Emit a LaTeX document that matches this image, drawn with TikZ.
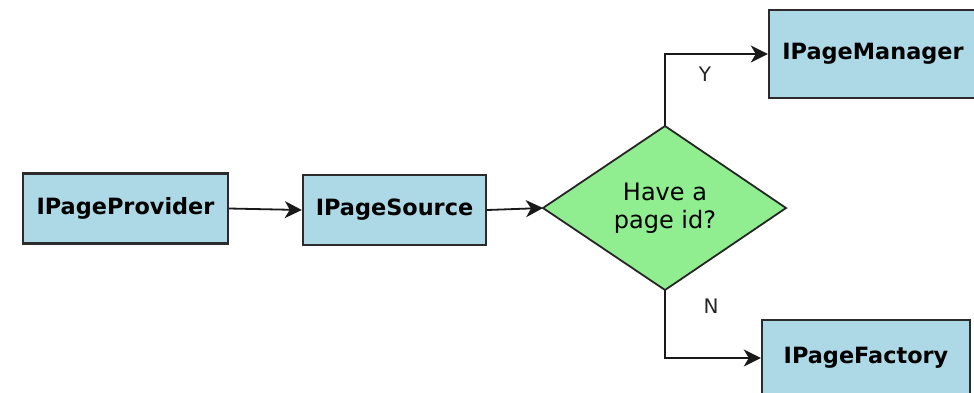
\documentclass[tikz,border=0pt]{standalone}
\usepackage{fontspec}
\setmainfont{DejaVu Sans}
\usetikzlibrary{shapes.geometric,arrows.meta}
\definecolor{boxblue}{HTML}{ADD8E6}
\definecolor{diagreen}{HTML}{90EE90}
\definecolor{edge}{HTML}{2B2B2B}
\tikzset{
  ibox/.style={draw=edge, line width=2.4pt, fill=boxblue, rectangle, inner sep=0pt, font=\fontsize{22.4}{26}\selectfont\bfseries},
  decide/.style={draw=black!85, line width=1.8pt, fill=diagreen, inner sep=0pt, font=\fontsize{24}{28}\selectfont, align=center},
  conn/.style={line width=1.8pt, draw=black!90, -{Stealth[length=17pt,width=17pt,inset=5pt]}},
  lbl/.style={font=\fontsize{20}{22}\selectfont, text=black!85}
}
\begin{document}
\begin{tikzpicture}[x=1pt,y=-1pt]
\useasboundingbox (0,0) rectangle (974,392);
\clip (0,0) rectangle (974,392);
\fill[white] (0,0) rectangle (974,392);
\node[ibox, minimum width=205pt, minimum height=70pt] (prov) at (125.5,208.5) {IPageProvider};
\node[ibox, minimum width=183pt, minimum height=70pt] (src) at (394.5,210) {IPageSource};
\draw[decide] (665,126) -- (786,208) -- (665,290) -- (543,208) -- cycle;
\coordinate (dtop) at (665,126);
\coordinate (dbot) at (665,290);
\coordinate (dleft) at (543,208);
\node[decide, draw=none, fill=none] (dia) at (665,208) {Have a\\page id?};
\node[ibox, minimum width=208pt, minimum height=88pt] (mgr) at (873,54) {IPageManager};
\node[ibox, minimum width=208pt, minimum height=76pt] (fac) at (866,358) {IPageFactory};
\draw[conn] (prov.east) -- (src.west);
\draw[conn] (src.east) -- (dleft);
\draw[conn] (dtop) |- (mgr.west);
\draw[conn] (dbot) |- (fac.west);
\node[lbl] (ylab) at (705,74) {Y};
\node[lbl] (nlab) at (711,306) {N};
\end{tikzpicture}
\end{document}
